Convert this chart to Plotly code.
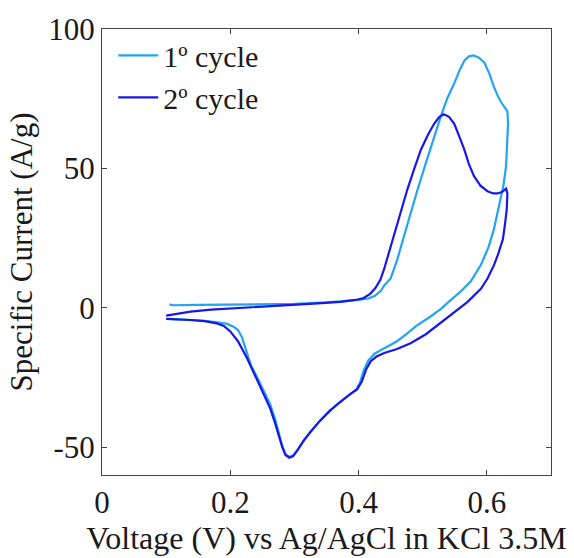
import plotly.graph_objects as go

# Cycle 1 (light blue)
c1_v = [0.105, 0.11, 0.15, 0.2, 0.25, 0.3, 0.35, 0.38, 0.40, 0.415, 0.425, 0.435, 0.44, 0.45,
        0.46, 0.47, 0.48, 0.492, 0.505, 0.515, 0.528, 0.538, 0.549, 0.558, 0.565, 0.572, 0.579,
        0.587, 0.596, 0.604, 0.611, 0.617, 0.622, 0.628, 0.632, 0.633, 0.632, 0.630, 0.626,
        0.622, 0.616, 0.611, 0.603, 0.591, 0.575, 0.56, 0.544, 0.528, 0.51, 0.49, 0.476, 0.46,
        0.44, 0.425, 0.415, 0.408, 0.402, 0.396, 0.385, 0.37, 0.355, 0.34, 0.325, 0.315, 0.305,
        0.298, 0.292, 0.286, 0.281, 0.276, 0.27, 0.262, 0.252, 0.242, 0.232, 0.225, 0.218,
        0.212, 0.205, 0.195, 0.18, 0.16, 0.13, 0.105]
c1_i = [1.2, 0.9, 1.0, 1.1, 1.2, 1.4, 1.9, 2.4, 2.8, 3.3, 4.2, 6.2, 8.0, 10.5,
        17, 25, 33, 42.4, 52, 59.5, 68.5, 75, 80.4, 85.5, 88.6, 90.2, 90.5,
        89.8, 88, 84, 79.2, 76, 73.8, 71.8, 70.5, 66, 58, 51, 44,
        39.5, 33, 28.2, 22, 15.5, 9.5, 6, 2.8, -0.5, -3.5, -6.5, -9.2, -12,
        -14.5, -16.5, -19, -22.5, -27, -29.5, -31.3, -34, -37, -40.5, -44.5, -47.5, -51,
        -53, -53.5, -52.5, -49.5, -45, -40, -34.5, -29.5, -25, -20.5, -15.5, -10.5,
        -8, -6.8, -5.8, -5.2, -4.7, -4.3, -4.0]

# Cycle 2 (dark blue)
c2_v = [0.1, 0.12, 0.138, 0.17, 0.216, 0.25, 0.294, 0.33, 0.372, 0.395, 0.408, 0.418, 0.426,
        0.434, 0.44, 0.447, 0.455, 0.465, 0.476, 0.487, 0.497, 0.508, 0.518, 0.526, 0.533,
        0.541, 0.549, 0.557, 0.565, 0.572, 0.58, 0.59, 0.601, 0.61, 0.617, 0.624, 0.63, 0.632,
        0.631, 0.628, 0.625, 0.618, 0.611, 0.601, 0.591, 0.57, 0.55, 0.528, 0.505, 0.481, 0.46,
        0.44, 0.428, 0.419, 0.412, 0.405, 0.398, 0.387, 0.37, 0.355, 0.34, 0.325, 0.315, 0.305,
        0.298, 0.292, 0.286, 0.281, 0.276, 0.27, 0.262, 0.252, 0.24, 0.226, 0.212, 0.2, 0.19,
        0.179, 0.16, 0.138, 0.1]
c2_i = [-2.8, -2.0, -1.4, -0.7, 0.0, 0.5, 1.0, 1.5, 2.1, 2.8, 3.5, 5, 7,
        10, 14, 19.5, 25.8, 34, 42.4, 50, 56.6, 62, 66.1, 68.5, 69.4,
        68.5, 66.1, 61.5, 56.6, 51.5, 47.2, 43.8, 41.8, 41.0, 41, 41.6, 42.7, 41,
        35.3, 29.5, 24.6, 19.5, 15.2, 10.5, 6.9, 2.1, -1.5, -5.5, -9.5, -12.7, -14.8,
        -16.2, -17.5, -19.2, -22, -26.5, -29.2, -31, -34, -37, -40.5, -44.5, -47.5, -51,
        -53.2, -53.8, -52.8, -50, -46, -41.5, -36, -31, -24.5, -18, -12, -8.5, -6.5,
        -5.6, -4.8, -4.4, -4.0]

x_ticks = [0, 0.2, 0.4, 0.6]
x_tick_text = ["0", "0.2", "0.4", "0.6"]
y_ticks = [-50, 0, 50, 100]
y_tick_text = ["-50", "0", "50", "100"]

FONT = "Liberation Serif"
FS = 31
TXT = "#1a1a1a"
fig = go.Figure()
fig.add_trace(go.Scatter(x=c1_v, y=c1_i, mode="lines", name="1º cycle",
                         line=dict(color="#22A4F2", width=2.2)))
fig.add_trace(go.Scatter(x=c2_v, y=c2_i, mode="lines", name="2º cycle",
                         line=dict(color="#1818E6", width=2.2)))

axis_common = dict(showline=True, linecolor="#444444", linewidth=1, mirror="ticks",
                   ticks="inside", ticklen=5, tickcolor="#444444", showgrid=False,
                   zeroline=False, tickfont=dict(family=FONT, size=FS, color=TXT))
fig.update_xaxes(range=[0, 0.7], tickvals=x_ticks, ticktext=x_tick_text,
                 title=dict(text="Voltage (V) vs Ag/AgCl in KCl 3.5M",
                            font=dict(family=FONT, size=32, color=TXT), standoff=0),
                 **axis_common)
fig.update_yaxes(range=[-60, 100], tickvals=y_ticks, ticktext=y_tick_text,
                 title=dict(text="Specific Current (A/g)",
                            font=dict(family=FONT, size=FS, color=TXT), standoff=6),
                 **axis_common)
fig.update_layout(width=574, height=558, margin=dict(l=102, r=23, t=25, b=83),
                  plot_bgcolor="white", paper_bgcolor="white",
                  legend=dict(x=0.025, y=0.999, xanchor="left", yanchor="top",
                              bgcolor="rgba(0,0,0,0)", itemwidth=40,
                              font=dict(family=FONT, size=30, color=TXT),
                              tracegroupgap=0))
fig.write_html("out.html")
